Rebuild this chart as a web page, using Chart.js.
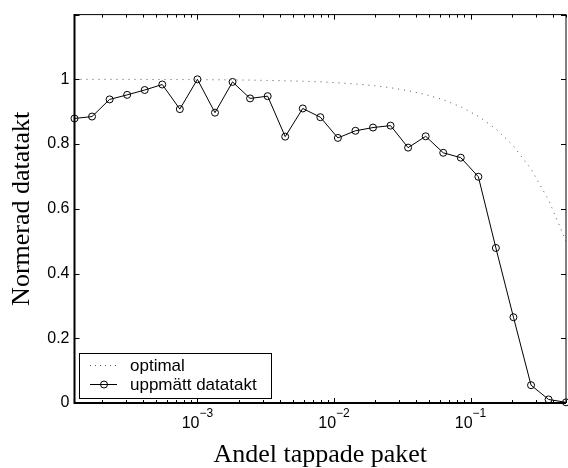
<!DOCTYPE html>
<html>
<head>
<meta charset="utf-8">
<script src="https://cdn.jsdelivr.net/npm/chart.js@4.4.0/dist/chart.umd.min.js"></script>
<style>
  html, body { margin: 0; padding: 0; overflow: hidden; background: #fff; }
  canvas { display: block; }
</style>
</head>
<body>
<canvas id="myChart" width="571" height="468"></canvas>
<script>
// andel tappade paket (x)
const lossRate = [0.0001259, 0.0001692, 0.0002276, 0.0003059, 0.0004113, 0.000553, 0.0007436,
  0.001, 0.001345, 0.001808, 0.002431, 0.003269, 0.004394, 0.005908, 0.007943,
  0.01068, 0.01436, 0.01931, 0.02596, 0.0349, 0.04693, 0.0631, 0.08483,
  0.1141, 0.1533, 0.2062, 0.2773, 0.3728, 0.5];
const measured = [0.879, 0.885, 0.938, 0.952, 0.967, 0.984, 0.908,
  1.0, 0.897, 0.992, 0.941, 0.948, 0.823, 0.910, 0.883,
  0.819, 0.841, 0.851, 0.857, 0.789, 0.824, 0.773, 0.758,
  0.699, 0.479, 0.265, 0.055, 0.011, 0.002];
const optimal = [1.0, 1.0, 1.0, 1.0, 0.9996, 0.9994, 0.9993,
  0.999, 0.9987, 0.9982, 0.9976, 0.9967, 0.9956, 0.9941, 0.9921,
  0.9893, 0.9856, 0.9807, 0.974, 0.965, 0.953, 0.937, 0.915,
  0.886, 0.847, 0.794, 0.723, 0.627, 0.5];
const seriesLabels = ["optimal", "uppmätt datatakt"];
const decadeTicks = [0.001, 0.01, 0.1];
const decadeExps = ["\u22123", "\u22122", "\u22121"];

const sans = "'Liberation Sans', Arial, Helvetica, sans-serif";
const serif = "'Liberation Serif', 'Times New Roman', serif";

// matlab style box: ticks inside on all four sides, legend in lower left
const matlabAxes = {
  id: "matlabAxes",
  afterDatasetsDraw(chart) {
    const { ctx, chartArea: a } = chart;
    const xs = chart.scales.x, ys = chart.scales.y;
    ctx.save();
    ctx.strokeStyle = "#000";
    ctx.lineWidth = 1;
    ctx.beginPath();
    ys.ticks.forEach(t => {
      const py = Math.round(ys.getPixelForValue(t.value)) + 0.5;
      ctx.moveTo(a.left, py); ctx.lineTo(a.left + 5, py);
      ctx.moveTo(a.right, py); ctx.lineTo(a.right - 5, py);
    });
    for (let e = -4; e <= -1; e++) {
      for (let m = 1; m <= 9; m++) {
        const v = m * Math.pow(10, e);
        if (v < xs.min || v > xs.max) continue;
        const px = Math.round(xs.getPixelForValue(v)) + 0.5;
        const len = m === 1 ? 5 : 3;
        ctx.moveTo(px, a.bottom); ctx.lineTo(px, a.bottom - len);
        ctx.moveTo(px, a.top); ctx.lineTo(px, a.top + len);
      }
    }
    ctx.stroke();

    // frame
    ctx.beginPath();
    ctx.moveTo(a.left, a.top); ctx.lineTo(a.right, a.top);
    ctx.moveTo(a.right, a.top); ctx.lineTo(a.right, a.bottom);
    ctx.stroke();
    ctx.lineWidth = 2;
    ctx.beginPath();
    ctx.moveTo(a.left, a.top - 0.5); ctx.lineTo(a.left, a.bottom);
    ctx.lineTo(a.right, a.bottom);
    ctx.stroke();

    // x tick labels 10^n
    ctx.fillStyle = "#000";
    ctx.textAlign = "left";
    ctx.textBaseline = "alphabetic";
    decadeTicks.forEach((v, i) => {
      const px = xs.getPixelForValue(v);
      ctx.font = "16px " + sans;
      const w1 = ctx.measureText("10").width;
      ctx.font = "12px " + sans;
      const w2 = ctx.measureText(decadeExps[i]).width;
      const x0 = px - (w1 + w2) / 2;
      ctx.font = "16px " + sans;
      ctx.fillText("10", x0, a.bottom + 25);
      ctx.font = "12px " + sans;
      ctx.fillText(decadeExps[i], x0 + w1, a.bottom + 14);
    });

    // legend
    const lx = 79.5, ly = 353.5, lw = 192, lh = 45;
    ctx.fillStyle = "#fff";
    ctx.fillRect(lx, ly, lw, lh);
    ctx.lineWidth = 1;
    ctx.strokeStyle = "#000";
    ctx.strokeRect(lx, ly, lw, lh);
    ctx.beginPath();
    ctx.setLineDash([1, 4]);
    ctx.strokeStyle = "#555";
    ctx.moveTo(90, 365.5); ctx.lineTo(117, 365.5);
    ctx.stroke();
    ctx.setLineDash([]);
    ctx.strokeStyle = "#000";
    ctx.beginPath();
    ctx.moveTo(90, 384.5); ctx.lineTo(117, 384.5);
    ctx.stroke();
    ctx.beginPath();
    ctx.arc(104, 384.5, 3.5, 0, Math.PI * 2);
    ctx.stroke();
    ctx.fillStyle = "#000";
    ctx.font = "17px " + sans;
    ctx.textBaseline = "middle";
    ctx.fillText(chart.data.datasets[0].label, 130, 366);
    ctx.fillText(chart.data.datasets[1].label, 130, 385);
    ctx.restore();
  }
};

const ctx = document.getElementById("myChart");
const config = {
  type: "scatter",
  data: {
    datasets: [
      {
        label: seriesLabels[0],
        data: lossRate.map((x, i) => ({ x: x, y: optimal[i] })),
        showLine: true,
        borderColor: "#555",
        borderWidth: 1,
        borderDash: [1, 5],
        pointRadius: 0,
      },
      {
        label: seriesLabels[1],
        data: lossRate.map((x, i) => ({ x: x, y: measured[i] })),
        showLine: true,
        borderColor: "#000",
        borderWidth: 1,
        pointRadius: 3.5,
        pointBorderWidth: 1,
        pointBorderColor: "#000",
        pointBackgroundColor: "rgba(0,0,0,0)",
        clip: false,
      },
    ],
  },
  options: {
    responsive: false,
    animation: false,
    devicePixelRatio: 1,
    layout: { padding: { left: 0, top: 11.5, right: 0.5, bottom: 0 } },
    scales: {
      x: {
        type: "logarithmic",
        min: lossRate[0],
        max: lossRate[lossRate.length - 1],
        grid: { display: false },
        border: { display: false },
        ticks: { display: false },
        title: {
          display: true,
          text: "Andel tappade paket",
          color: "#000",
          font: { family: serif, size: 26, lineHeight: 1 },
          padding: { top: 0, bottom: 0 },
        },
        afterFit(scale) { scale.height = 65; },
      },
      y: {
        min: 0,
        max: 1.2,
        grid: { display: false, drawTicks: false },
        border: { display: false },
        ticks: {
          stepSize: 0.2,
          padding: 5,
          color: "#000",
          font: { family: sans, size: 16 },
          callback: (v) => (v > 1.05 ? "" : String(Math.round(v * 10) / 10)),
        },
        title: {
          display: true,
          text: "Normerad datatakt",
          color: "#000",
          font: { family: serif, size: 26, lineHeight: 1 },
          padding: { top: 9, bottom: 0 },
        },
        afterFit(scale) { scale.width = 74.5; },
      },
    },
    plugins: {
      legend: { display: false },
      tooltip: { enabled: false },
    },
  },
  plugins: [matlabAxes],
};
myChart = new Chart(ctx, config);
</script>
</body>
</html>
